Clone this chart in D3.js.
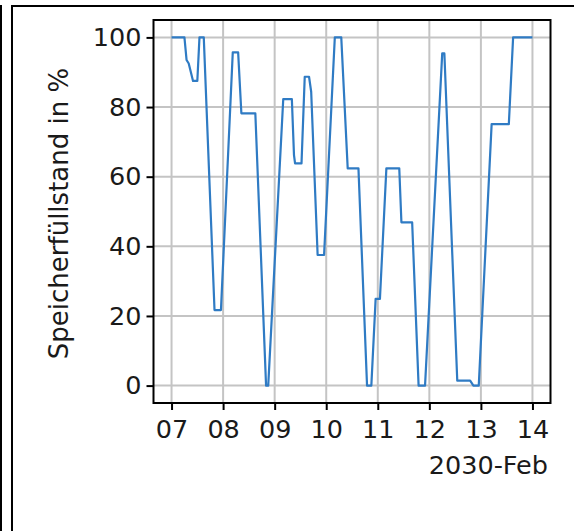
<!DOCTYPE html>
<html>
<head>
<meta charset="utf-8">
<script src="https://cdn.jsdelivr.net/npm/d3@7/dist/d3.min.js"></script>
<style>
  html, body { margin: 0; padding: 0; background: #ffffff; }
  svg { display: block; }
  text { font-family: "DejaVu Sans", sans-serif; fill: #1a1a1a; }
</style>
</head>
<body>
<svg id="chart" width="574" height="531"></svg>
<script>
// ---- Data (hours after 2030-02-07 00:00, storage level in %) ----
const startDate = "2030-02-07T00:00:00Z";
const hours = [0, 6, 7, 8, 10, 12, 13, 15, 20, 23,
  28.5, 31, 32.5, 39, 44, 45, 52, 56, 57, 57.5,
  60.5, 62, 64, 65, 68, 71, 76, 79, 82, 87,
  91, 93, 95, 97, 100, 106, 107, 112, 115, 118,
  126, 127, 133, 139, 140.5, 143, 149, 157, 159, 168];
const levels = [100, 100, 93.5, 92.5, 87.5, 87.5, 100, 100, 21.7, 21.7,
  95.7, 95.7, 78.2, 78.2, 0, 0, 82.3, 82.3, 66.2, 63.8,
  63.8, 88.7, 88.7, 84.4, 37.5, 37.5, 100, 100, 62.4, 62.4,
  0, 0, 24.9, 24.9, 62.4, 62.4, 46.9, 46.9, 0, 0,
  95.4, 95.4, 1.4, 1.4, 0, 0, 75.1, 75.1, 100, 100];
const yTicks = [0, 20, 40, 60, 80, 100];
const xTickDays = ["2030-02-07", "2030-02-08", "2030-02-09", "2030-02-10",
  "2030-02-11", "2030-02-12", "2030-02-13", "2030-02-14"];
const yLabel = "Speicherfüllstand in %";
const xOffsetLabel = "2030-Feb";

// ---- Build ----
const t0 = new Date(startDate);
const data = hours.map((h, i) => ({ t: d3.utcMinute.offset(t0, Math.round(h * 60)), v: levels[i] }));
const xTicks = xTickDays.map(s => new Date(s + "T00:00:00Z"));

const svg = d3.select("#chart");
const L = 153.5, R = 550.5, T = 20, B = 403;
const FS = 25.5;

const tExt = d3.extent(data, d => d.t);
const span = tExt[1] - tExt[0];
const x = d3.scaleUtc()
  .domain([new Date(+tExt[0] - span * 0.05), new Date(+tExt[1] + span * 0.05)])
  .range([L, R]);
const y = d3.scaleLinear().domain([-5, 105]).range([B, T]);

// outer frame
svg.append("line").attr("x1", 1).attr("x2", 1).attr("y1", 5).attr("y2", 531)
  .attr("stroke", "#000").attr("stroke-width", 2);
svg.append("rect").attr("x", 12).attr("y", 6).attr("width", 600).attr("height", 600)
  .attr("fill", "none").attr("stroke", "#000").attr("stroke-width", 2);

// grid
const grid = svg.append("g").attr("stroke", "#c4c4c4").attr("stroke-width", 2);
grid.selectAll("line.gx").data(xTicks).join("line")
  .attr("x1", d => x(d)).attr("x2", d => x(d)).attr("y1", T).attr("y2", B);
grid.selectAll("line.gy").data(yTicks).join("line")
  .attr("x1", L).attr("x2", R).attr("y1", d => y(d)).attr("y2", d => y(d));

// line
svg.append("path").datum(data)
  .attr("fill", "none").attr("stroke", "#2f7bc4").attr("stroke-width", 2.2)
  .attr("stroke-linejoin", "round")
  .attr("d", d3.line().x(d => x(d.t)).y(d => y(d.v)));

// axes
const fmt = d3.utcFormat("%d");
const xAxis = d3.axisBottom(x).tickValues(xTicks).tickFormat(fmt).tickSize(7).tickPadding(10);
const yAxis = d3.axisLeft(y).tickValues(yTicks).tickSize(7).tickPadding(5);

const gx = svg.append("g").attr("transform", `translate(0,${B})`).call(xAxis);
const gy = svg.append("g").attr("transform", `translate(${L},0)`).call(yAxis);
[gx, gy].forEach(g => {
  g.select(".domain").remove();
  g.selectAll(".tick line").attr("stroke", "#000").attr("stroke-width", 2);
  g.selectAll(".tick text").attr("font-size", FS).attr("font-family", "DejaVu Sans, sans-serif").attr("fill", "#1a1a1a");
});

// spines
svg.append("rect").attr("x", L).attr("y", T).attr("width", R - L).attr("height", B - T)
  .attr("fill", "none").attr("stroke", "#000").attr("stroke-width", 2);

// labels
svg.append("text")
  .attr("transform", `translate(68,${(T + B) / 2 + 2}) rotate(-90)`)
  .attr("text-anchor", "middle").attr("font-size", 26)
  .text(yLabel);
svg.append("text")
  .attr("x", 548).attr("y", 474).attr("text-anchor", "end").attr("font-size", FS)
  .text(xOffsetLabel);
</script>
</body>
</html>
